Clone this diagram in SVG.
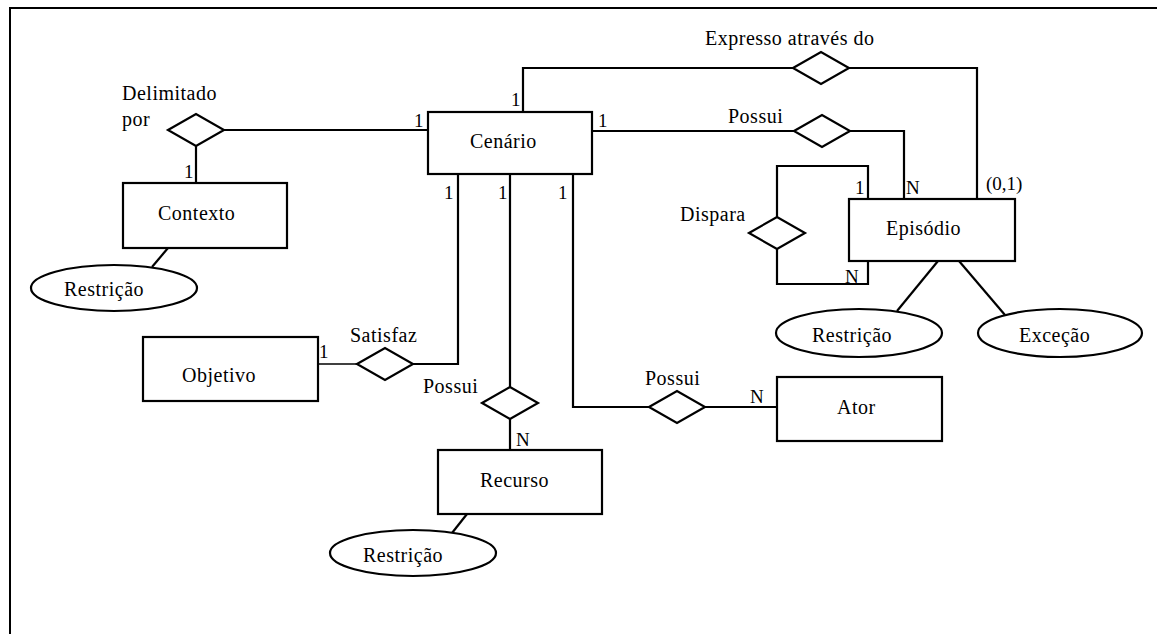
<svg xmlns="http://www.w3.org/2000/svg" width="1157" height="634" viewBox="0 0 1157 634">
  <style>
    .frame { fill: none; stroke: #000; stroke-width: 2; }
    .entity { fill: #fff; stroke: #000; stroke-width: 2.2; }
    .rel { fill: #fff; stroke: #000; stroke-width: 2.2; stroke-linejoin: miter; }
    .attr { fill: #fff; stroke: #000; stroke-width: 2.2; }
    .link { fill: none; stroke: #000; stroke-width: 2.2; }
    text { font-family: "Liberation Serif", "Times New Roman", serif; fill: #000; }
    .name { font-size: 20px; letter-spacing: 0.5px; }
    .card { font-size: 19px; }
  </style>
  <defs>
    <!-- relationship diamond centred on the origin -->
    <polygon id="diamond" points="-28,0 0,-16 28,0 0,16"/>
  </defs>
  <rect width="1157" height="634" fill="#fff"/>

  <!-- page frame (top and left edges) -->
  <path class="frame" d="M10,634 V8 H1157"/>

  <!-- connectors -->
  <g id="connectors">
    <!-- Delimitado por -->
    <path class="link" d="M224,130 H428"/>
    <path class="link" d="M196,146 V183"/>
    <!-- Expresso através do -->
    <path class="link" d="M523,112 V68 H793"/>
    <path class="link" d="M849,68 H977 V199"/>
    <!-- Possui (Episódio) -->
    <path class="link" d="M592,131 H794"/>
    <path class="link" d="M850,131 H904 V199"/>
    <!-- Dispara (self loop on Episódio) -->
    <path class="link" d="M868,199 V166 H777 V217"/>
    <path class="link" d="M777,249 V284 H868 V261"/>
    <!-- Satisfaz -->
    <path class="link" d="M458,174 V364 H413"/>
    <path class="link" d="M357,364 H318" style="stroke-width:1.6"/>
    <!-- Possui (Recurso) -->
    <path class="link" d="M510,174 V387"/>
    <path class="link" d="M510,419 V450"/>
    <!-- Possui (Ator) -->
    <path class="link" d="M573,174 V407 H650"/>
    <path class="link" d="M704,407 H777"/>
    <!-- attribute links -->
    <path class="link" d="M168,248 L152,267"/>
    <path class="link" d="M467,514 L452,533"/>
    <path class="link" d="M938,261 L897,311"/>
    <path class="link" d="M959,261 L1005,315"/>
  </g>

  <!-- entities -->
  <g id="cenario">
    <rect class="entity" x="428" y="112" width="164" height="62"/>
    <text class="name" x="470" y="148">Cenário</text>
  </g>
  <g id="contexto">
    <rect class="entity" x="123" y="183" width="164" height="65"/>
    <text class="name" x="158" y="220">Contexto</text>
  </g>
  <g id="objetivo">
    <rect class="entity" x="143" y="337" width="175" height="64"/>
    <text class="name" x="182" y="382">Objetivo</text>
  </g>
  <g id="recurso">
    <rect class="entity" x="438" y="450" width="164" height="64"/>
    <text class="name" x="480" y="487">Recurso</text>
  </g>
  <g id="ator">
    <rect class="entity" x="777" y="377" width="165" height="64"/>
    <text class="name" x="837" y="414">Ator</text>
  </g>
  <g id="episodio">
    <rect class="entity" x="849" y="199" width="166" height="62"/>
    <text class="name" x="886" y="235">Episódio</text>
  </g>

  <!-- attributes -->
  <g id="restricao-contexto">
    <ellipse class="attr" cx="114" cy="288" rx="83" ry="23"/>
    <text class="name" x="64" y="296">Restrição</text>
  </g>
  <g id="restricao-recurso">
    <ellipse class="attr" cx="413" cy="553" rx="83" ry="23"/>
    <text class="name" x="363" y="562">Restrição</text>
  </g>
  <g id="restricao-episodio">
    <ellipse class="attr" cx="859" cy="333" rx="83" ry="24"/>
    <text class="name" x="812" y="342">Restrição</text>
  </g>
  <g id="excecao">
    <ellipse class="attr" cx="1060" cy="333" rx="82" ry="24"/>
    <text class="name" x="1019" y="342">Exceção</text>
  </g>

  <!-- relationships -->
  <g id="rel-delimitado">
    <use href="#diamond" class="rel" x="196" y="130"/>
    <text class="name" x="122" y="100">Delimitado</text>
    <text class="name" x="122" y="126">por</text>
  </g>
  <g id="rel-expresso">
    <use href="#diamond" class="rel" x="821" y="68"/>
    <text class="name" x="705" y="45">Expresso através do</text>
  </g>
  <g id="rel-possui-episodio">
    <use href="#diamond" class="rel" x="822" y="131"/>
    <text class="name" x="728" y="123">Possui</text>
  </g>
  <g id="rel-dispara">
    <use href="#diamond" class="rel" x="777" y="233"/>
    <text class="name" x="680" y="221">Dispara</text>
  </g>
  <g id="rel-satisfaz">
    <use href="#diamond" class="rel" x="385" y="364"/>
    <text class="name" x="350" y="342">Satisfaz</text>
  </g>
  <g id="rel-possui-recurso">
    <use href="#diamond" class="rel" x="510" y="403"/>
    <text class="name" x="423" y="393">Possui</text>
  </g>
  <g id="rel-possui-ator">
    <use href="#diamond" class="rel" x="677" y="407"/>
    <text class="name" x="645" y="385">Possui</text>
  </g>

  <!-- cardinalities -->
  <g id="cardinalities">
    <text class="card" x="184" y="178">1</text>
    <text class="card" x="414" y="127">1</text>
    <text class="card" x="511" y="106">1</text>
    <text class="card" x="598" y="127">1</text>
    <text class="card" x="444" y="199">1</text>
    <text class="card" x="498" y="199">1</text>
    <text class="card" x="558" y="199">1</text>
    <text class="card" x="319" y="358">1</text>
    <text class="card" x="855" y="194">1</text>
    <text class="card" x="906" y="194">N</text>
    <text class="card" x="986" y="190">(0,1)</text>
    <text class="card" x="845" y="283">N</text>
    <text class="card" x="516" y="446">N</text>
    <text class="card" x="750" y="403">N</text>
  </g>
</svg>
